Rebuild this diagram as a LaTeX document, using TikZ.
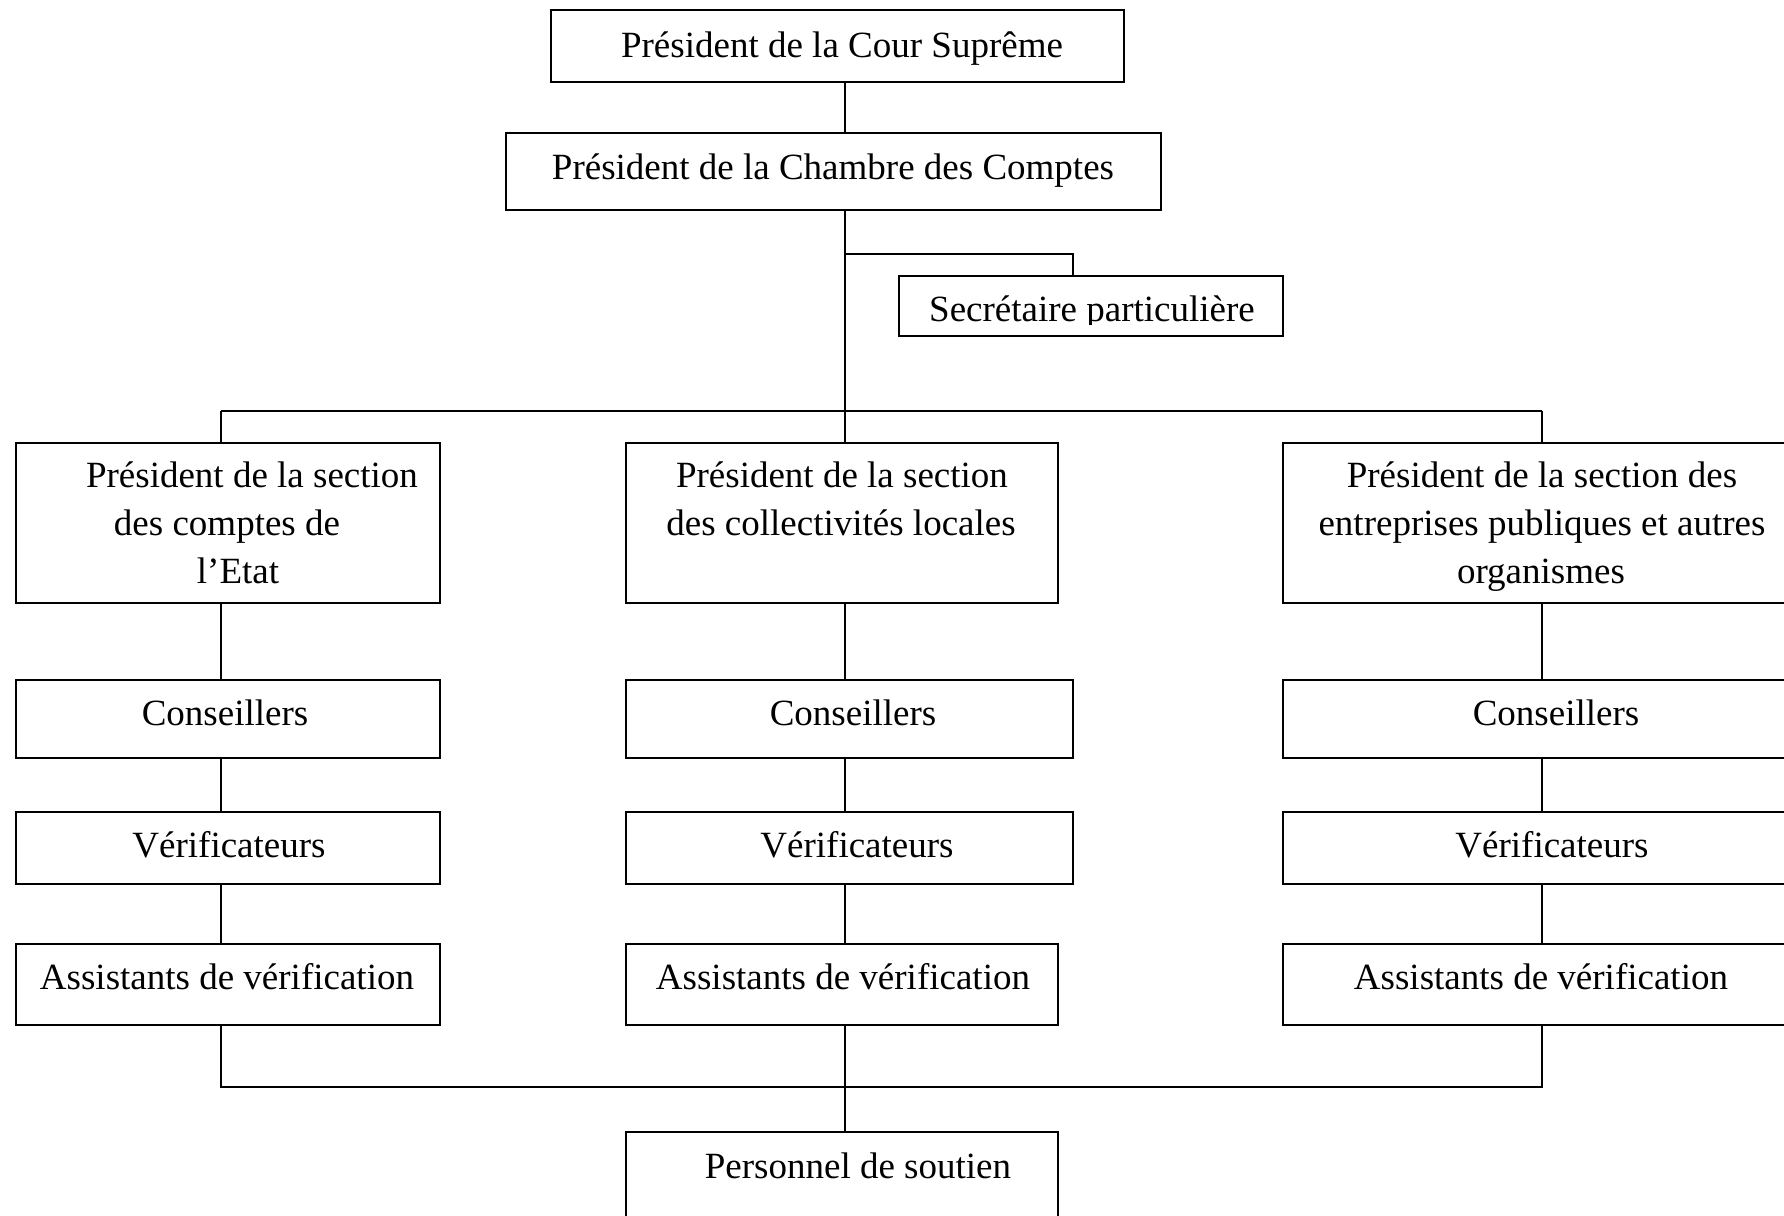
\documentclass[tikz,border=0pt]{standalone}
\usepackage{fontspec}
\setmainfont{Liberation Serif}
\usetikzlibrary{fit}
\begin{document}
\begin{tikzpicture}[x=0.5pt,y=-0.5pt,
  box/.style={draw, line width=1pt, inner sep=0pt, rectangle},
  txt/.style={inner sep=0pt, anchor=base, font=\fontsize{18.5}{22}\selectfont},
  wire/.style={line width=0.75pt}]
\useasboundingbox (0,0) rectangle (1784,1216);
% column coordinates
\coordinate (cL) at (221,0);
\coordinate (cM) at (845,0);
\coordinate (cR) at (1542,0);
\coordinate (busT) at (0,411);
\coordinate (busB) at (0,1087);
\coordinate (secJ) at (1073,254);
% boxes
\node[box, fit={(551,10) (1124,82)}] (top) {};
\node[box, fit={(506,133) (1161,210)}] (cham) {};
\node[box, fit={(899,276) (1283,336)}] (secr) {};
\node[box, fit={(16,443) (440,603)}] (secL) {};
\node[box, fit={(626,443) (1058,603)}] (secM) {};
\node[box, fit={(1283,443) (1800,603)}] (secR) {};
\node[box, fit={(16,680) (440,758)}] (conL) {};
\node[box, fit={(626,680) (1073,758)}] (conM) {};
\node[box, fit={(1283,680) (1800,758)}] (conR) {};
\node[box, fit={(16,812) (440,884)}] (verL) {};
\node[box, fit={(626,812) (1073,884)}] (verM) {};
\node[box, fit={(1283,812) (1800,884)}] (verR) {};
\node[box, fit={(16,944) (440,1025)}] (assL) {};
\node[box, fit={(626,944) (1058,1025)}] (assM) {};
\node[box, fit={(1283,944) (1800,1025)}] (assR) {};
\node[box, fit={(626,1132) (1058,1240)}] (pers) {};
% texts
\node[txt] (tTop) at (842,57) {Président de la Cour Suprême};
\node[txt] (tCham) at (833,179) {Président de la Chambre des Comptes};
\begin{scope}
\clip (899,276) rectangle (1283,324);
\node[txt] (tSecr) at (1092,321) {Secrétaire particulière};
\end{scope}
\node[txt] (tL1) at (252,487) {Président de la section};
\node[txt] (tL2) at (227,535) {des comptes de};
\node[txt] (tL3) at (238,583) {l’Etat};
\node[txt] (tM1) at (842,487) {Président de la section};
\node[txt] (tM2) at (841,535) {des collectivités locales};
\node[txt] (tR1) at (1542,487) {Président de la section des};
\node[txt] (tR2) at (1542,535) {entreprises publiques et autres};
\node[txt] (tR3) at (1541,583) {organismes};
\node[txt] (tConL) at (225,725) {Conseillers};
\node[txt] (tConM) at (853,725) {Conseillers};
\node[txt] (tConR) at (1556,725) {Conseillers};
\node[txt] (tVerL) at (229,857) {Vérificateurs};
\node[txt] (tVerM) at (857,857) {Vérificateurs};
\node[txt] (tVerR) at (1552,857) {Vérificateurs};
\node[txt] (tAssL) at (227,989) {Assistants de vérification};
\node[txt] (tAssM) at (843,989) {Assistants de vérification};
\node[txt] (tAssR) at (1541,989) {Assistants de vérification};
\node[txt] (tPers) at (858,1178) {Personnel de soutien};
% connectors
\draw[wire] (top.south -| cM) -- (cham.north -| cM);
\draw[wire] (cham.south -| cM) -- (secM.north -| cM);
\draw[wire] (secJ -| cM) -- (secJ) -- (secr.north -| secJ);
\draw[wire] (busT -| cL) -- (busT -| cR);
\draw[wire] (busT -| cL) -- (secL.north -| cL);
\draw[wire] (busT -| cR) -- (secR.north -| cR);
\draw[wire] (secL.south -| cL) -- (conL.north -| cL);
\draw[wire] (secM.south -| cM) -- (conM.north -| cM);
\draw[wire] (secR.south -| cR) -- (conR.north -| cR);
\draw[wire] (conL.south -| cL) -- (verL.north -| cL);
\draw[wire] (conM.south -| cM) -- (verM.north -| cM);
\draw[wire] (conR.south -| cR) -- (verR.north -| cR);
\draw[wire] (verL.south -| cL) -- (assL.north -| cL);
\draw[wire] (verM.south -| cM) -- (assM.north -| cM);
\draw[wire] (verR.south -| cR) -- (assR.north -| cR);
\draw[wire] (assL.south -| cL) -- (busB -| cL) -- (busB -| cR) -- (assR.south -| cR);
\draw[wire] (assM.south -| cM) -- (pers.north -| cM);
\end{tikzpicture}
\end{document}
